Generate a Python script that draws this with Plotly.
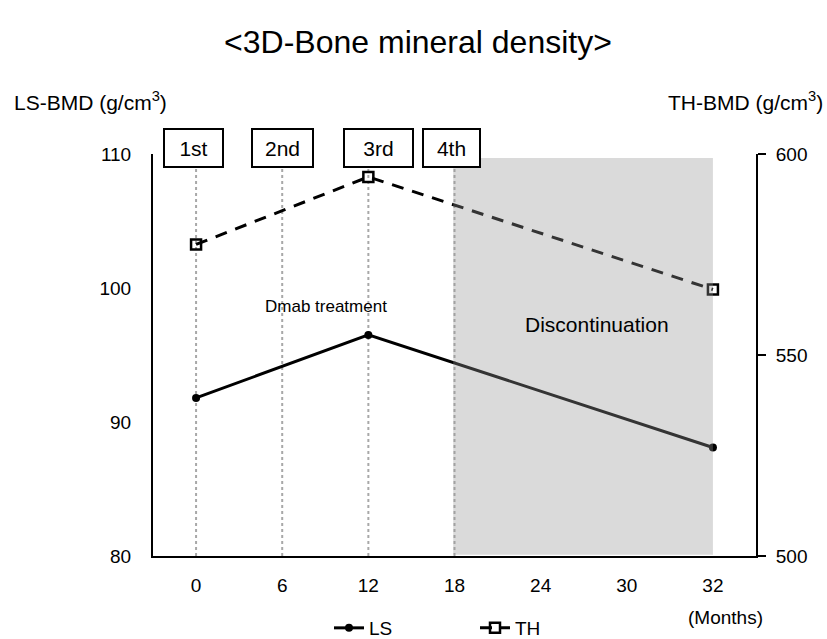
import plotly.graph_objects as go

# ---- data ----
months = ["0", "6", "12", "18", "24", "30", "32"]
point_months = ["0", "12", "32"]
ls_values = [91.8, 96.5, 88.1]
th_values = [577.5, 594.3, 566.3]
visit_labels = ["1st", "2nd", "3rd", "4th"]
visit_months = ["0", "6", "12", "18"]
disc_start, disc_end = "18", "32"
ls_range = [80, 110]
th_range = [500, 600]
ls_ticks = [80, 90, 100, 110]
th_ticks = [500, 550, 600]

FONT = "Arial, Liberation Sans, Helvetica, sans-serif"
idx = {m: i for i, m in enumerate(months)}

fig = go.Figure()

fig.add_trace(go.Scatter(
    x=[idx[m] for m in point_months], y=ls_values, name="LS",
    mode="lines+markers", line=dict(color="black", width=3),
    marker=dict(symbol="circle", size=8, color="black"),
    yaxis="y"))
fig.add_trace(go.Scatter(
    x=[idx[m] for m in point_months], y=th_values, name="TH",
    mode="lines+markers", line=dict(color="black", width=3, dash="12px,9px"),
    marker=dict(symbol="square-open", size=10, color="black", line=dict(width=2.5)),
    yaxis="y2"))

shapes = []
# dotted visit lines
for m in visit_months:
    shapes.append(dict(type="line", xref="x", yref="paper",
                       x0=idx[m], x1=idx[m], y0=0, y1=0.965,
                       line=dict(color="#a8a8a8", width=2, dash="dot"),
                       layer="below"))
# discontinuation shaded region (semi-transparent overlay)
shapes.append(dict(type="rect", xref="x", yref="y",
                   x0=idx[disc_start] - 0.015, x1=idx[disc_end],
                   y0=ls_range[0] + 0.1, y1=109.7,
                   fillcolor="rgba(150,150,150,0.35)", line=dict(width=0),
                   layer="above"))

annotations = []
box_shift = [-3, 0, 10, -3]
box_w = [57, 59, 67, 55]
for lab, m, dx, w in zip(visit_labels, visit_months, box_shift, box_w):
    annotations.append(dict(
        x=idx[m], y=1.015, xref="x", yref="paper", text=lab,
        showarrow=False, xanchor="center", yanchor="middle",
        xshift=dx, width=w, height=36, borderpad=0,
        bordercolor="black", borderwidth=2, bgcolor="white",
        font=dict(family=FONT, size=21, color="black")))

annotations += [
    dict(x=(326 - 153) / 603, y=(556 - 306) / 402, xref="paper", yref="paper",
         xanchor="center", yanchor="middle",
         text="Dmab treatment", showarrow=False,
         font=dict(family=FONT, size=17, color="black")),
    dict(x=(597 - 153) / 603, y=(556 - 324) / 402, xref="paper", yref="paper",
         xanchor="center", yanchor="middle",
         text="Discontinuation", showarrow=False,
         font=dict(family=FONT, size=21, color="black")),
    dict(x=(725 - 153) / 603, y=-(617 - 556) / 402, xref="paper", yref="paper",
         xanchor="center", yanchor="middle",
         text="(Months)", showarrow=False,
         font=dict(family=FONT, size=19, color="black")),
    dict(x=(12 - 153) / 603, y=(556 - 101) / 402, xref="paper", yref="paper",
         xanchor="left", yanchor="middle",
         text="LS-BMD (g/cm<sup>3</sup>)", showarrow=False,
         font=dict(family=FONT, size=21, color="black")),
    dict(x=(825 - 153) / 603, y=(556 - 101) / 402, xref="paper", yref="paper",
         xanchor="right", yanchor="middle",
         text="TH-BMD (g/cm<sup>3</sup>)", showarrow=False,
         font=dict(family=FONT, size=21, color="black")),
]

fig.update_layout(
    width=827, height=639,
    margin=dict(l=153, r=71, t=154, b=83, autoexpand=False),
    paper_bgcolor="white", plot_bgcolor="white",
    font=dict(family=FONT, size=19, color="black"),
    title=dict(text="&lt;3D-Bone mineral density&gt;", x=418 / 827, xanchor="center",
               y=1 - 42 / 639, yanchor="middle",
               font=dict(family=FONT, size=32, color="black")),
    xaxis=dict(range=[-0.5, 6.5], tickmode="array",
               tickvals=list(range(len(months))), ticktext=months,
               showgrid=False, zeroline=False, showline=True,
               linecolor="black", linewidth=2, ticks="",
               ticklabelstandoff=11, fixedrange=True),
    yaxis=dict(range=ls_range, tickvals=ls_ticks, showgrid=False,
               zeroline=False, showline=True, linecolor="black", linewidth=2,
               ticks="", ticklabelstandoff=16),
    yaxis2=dict(range=th_range, tickvals=th_ticks, overlaying="y", side="right",
                showgrid=False, zeroline=False, showline=True,
                linecolor="black", linewidth=2, ticks="outside", ticklen=8,
                tickwidth=2, tickcolor="black", ticklabelstandoff=6),
    legend=dict(orientation="h", x=(329 - 153) / 603, y=-(628 - 556) / 402,
                xanchor="left", yanchor="middle", entrywidth=101,
                entrywidthmode="pixels",
                font=dict(family=FONT, size=19, color="black")),
    shapes=shapes, annotations=annotations,
)

fig.write_html("out.html", config={"displayModeBar": False},
               post_script="document.body.style.margin='0';document.body.style.overflow='hidden';")
